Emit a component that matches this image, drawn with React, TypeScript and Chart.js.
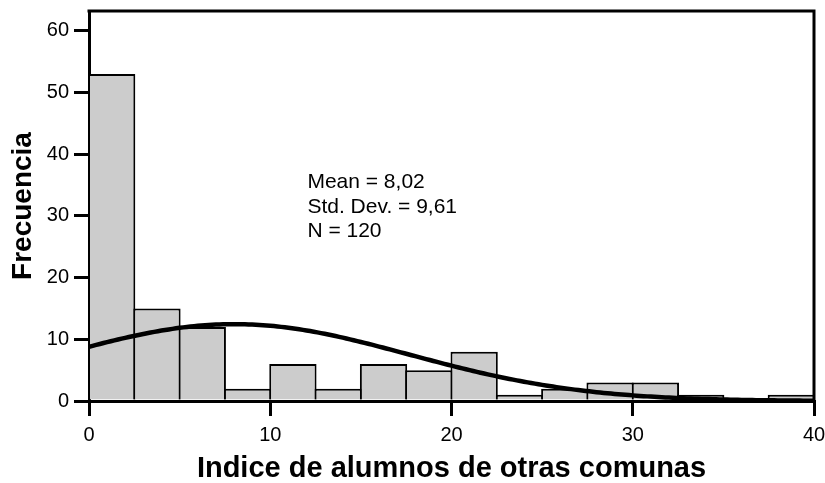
import React, { useEffect, useRef } from "react";
import { Chart, registerables } from "chart.js";

Chart.register(...registerables);

// Histogram bins (lower edges) and their counts
const BIN_LOWER = [0, 2.5, 5, 7.5, 10, 12.5, 15, 17.5, 20, 22.5, 25, 27.5, 30, 32.5, 35, 37.5];
const BIN_WIDTH = 2.5;
const FREQUENCIES = [53, 15, 12, 2, 6, 2, 6, 5, 8, 1, 2, 3, 3, 1, 0, 1];

// Summary statistics used for the fitted normal curve
const MEAN = 8.02;
const STD_DEV = 9.61;
const N = 120;
const STATS_LINES = ["Mean = 8,02", "Std. Dev. = 9,61", "N = 120"];

const X_TITLE = "Indice de alumnos de otras comunas";
const Y_TITLE = "Frecuencia";
const X_MIN = 0;
const X_MAX = 40;
const Y_MAX = 63.2;
const TICK_STEP = 10;

const FONT = "'Liberation Sans', Arial, Helvetica, sans-serif";

// Expected count per bin under a normal distribution with the stated mean / sd
function normalCount(x: number): number {
  const z = (x - MEAN) / STD_DEV;
  return (N * BIN_WIDTH) / (STD_DEV * Math.sqrt(2 * Math.PI)) * Math.exp(-0.5 * z * z);
}

const CURVE_STEP = 0.2;

// Closes the plot box on the top and right sides
const framePlugin = {
  id: "frame",
  afterDraw(chart: any) {
    const { ctx, chartArea } = chart;
    ctx.save();
    ctx.strokeStyle = "#000";
    ctx.lineWidth = 3;
    ctx.beginPath();
    ctx.moveTo(chartArea.left - 1.5, chartArea.top);
    ctx.lineTo(chartArea.right, chartArea.top);
    ctx.lineTo(chartArea.right, chartArea.bottom);
    ctx.stroke();
    ctx.restore();
  },
};

// Summary statistics text block inside the plot
const statsPlugin = {
  id: "stats",
  afterDatasetsDraw(chart: any) {
    const { ctx } = chart;
    const xs = chart.scales.x;
    const ys = chart.scales.y;
    const left = xs.getPixelForValue(12.05);
    const base = ys.getPixelForValue(34.5);
    ctx.save();
    ctx.fillStyle = "#000";
    ctx.font = `21px ${FONT}`;
    ctx.textAlign = "left";
    ctx.textBaseline = "alphabetic";
    STATS_LINES.forEach((t, i) => ctx.fillText(t, left, base + i * 24.5));
    ctx.restore();
  },
};

export default function App() {
  const canvasRef = useRef<HTMLCanvasElement | null>(null);

  useEffect(() => {
    const canvas = canvasRef.current;
    if (!canvas) return;

    const bars = BIN_LOWER.map((lo, i) => ({ x: lo + BIN_WIDTH / 2, y: FREQUENCIES[i] }));
    const curve: { x: number; y: number }[] = [];
    for (let x = X_MIN; x <= X_MAX + 1e-9; x += CURVE_STEP) {
      curve.push({ x, y: normalCount(x) });
    }

    const chart = new Chart(canvas, {
      type: "bar",
      data: {
        datasets: [
          {
            type: "line",
            data: curve,
            borderColor: "#000",
            borderWidth: 4.5,
            pointRadius: 0,
            tension: 0,
            fill: false,
            order: 0,
          } as any,
          {
            type: "bar",
            data: bars,
            backgroundColor: "#cccccc",
            borderColor: "#000",
            borderWidth: 2,
            barPercentage: 1.044,
            categoryPercentage: 1,
            order: 1,
          } as any,
        ],
      },
      options: {
        responsive: false,
        animation: false,
        events: [],
        layout: { padding: { top: 11, right: 11, left: 0, bottom: 0 } },
        plugins: {
          legend: { display: false },
          tooltip: { enabled: false },
        },
        scales: {
          x: {
            type: "linear",
            min: X_MIN,
            max: X_MAX,
            offset: false,
            ticks: {
              stepSize: TICK_STEP,
              color: "#000",
              font: { size: 20, family: FONT },
              padding: 7,
              maxRotation: 0,
            },
            grid: {
              offset: false,
              drawOnChartArea: false,
              drawTicks: true,
              tickLength: 15,
              lineWidth: 3,
              tickWidth: 3,
              color: "#000",
              tickColor: "#000",
            },
            border: { display: true, width: 3, color: "#000" },
            title: {
              display: true,
              text: X_TITLE,
              color: "#000",
              font: { size: 29, weight: "bold", family: FONT, lineHeight: 1 },
              padding: { top: 0, bottom: 0 },
            },
            afterFit: (s: any) => {
              s.height = 82;
              s.paddingLeft = 0;
              s.paddingRight = 0;
            },
          },
          y: {
            min: 0,
            max: Y_MAX,
            ticks: {
              stepSize: TICK_STEP,
              includeBounds: false,
              color: "#000",
              font: { size: 20, family: FONT },
              padding: 5,
            },
            grid: {
              drawOnChartArea: false,
              drawTicks: true,
              tickLength: 15,
              lineWidth: 3,
              tickWidth: 3,
              color: "#000",
              tickColor: "#000",
            },
            border: { display: true, width: 3, color: "#000" },
            title: {
              display: true,
              text: Y_TITLE,
              color: "#000",
              font: { size: 28, weight: "bold", family: FONT, lineHeight: 1 },
              padding: { top: 9, bottom: 0 },
            },
            afterFit: (s: any) => {
              s.width = 89;
              s.paddingTop = 0;
              s.paddingBottom = 0;
            },
          },
        },
      } as any,
      plugins: [statsPlugin, framePlugin],
    });

    return () => chart.destroy();
  }, []);

  return (
    <div style={{ position: "absolute", left: 0, top: 0, width: 825, height: 483, background: "#fff" }}>
      <canvas ref={canvasRef} width={825} height={483} style={{ display: "block" }} />
    </div>
  );
}
